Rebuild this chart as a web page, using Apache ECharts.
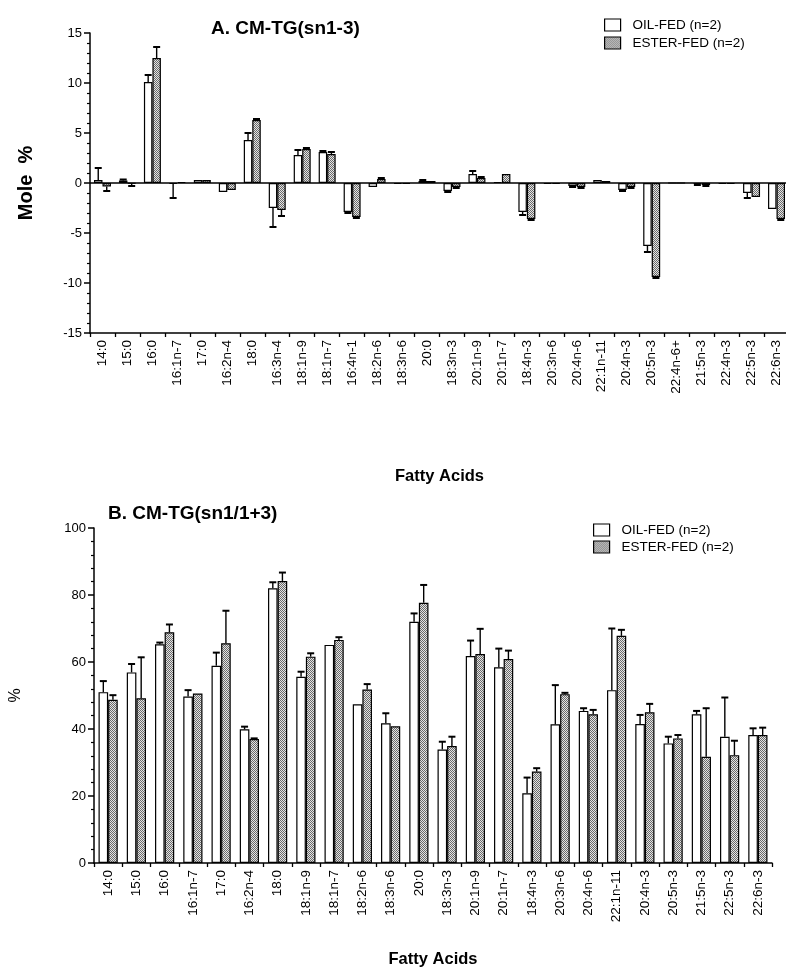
<!DOCTYPE html>
<html>
    <head>
        <meta charset="utf-8">
        <title>CM-TG fatty acids</title>
        <script src="https://cdn.jsdelivr.net/npm/echarts@6/dist/echarts.min.js"></script>
    </head>
    <body style="margin:0;background:#fff;">
        <div id="main" style="width:786px;height:973px;"></div>
        <script type="text/javascript">
        // panel A : CM-TG(sn1-3), change in mole %
        var catsA = ['14:0','15:0','16:0','16:1n-7','17:0','16:2n-4','18:0','16:3n-4','18:1n-9','18:1n-7',
                     '16:4n-1','18:2n-6','18:3n-6','20:0','18:3n-3','20:1n-9','20:1n-7','18:4n-3','20:3n-6','20:4n-6',
                     '22:1n-11','20:4n-3','20:5n-3','22:4n-6+','21:5n-3','22:4n-3','22:5n-3','22:6n-3'];
        var oilA      = [0.3, 0.25, 10.1, -0.1, 0.3, -0.9, 4.3, -2.5, 2.8, 3.1, -2.9, -0.4, -0.1, 0.2, -0.8, 0.9, 0.1, -2.9, -0.1, -0.3, 0.3, -0.7, -6.3, 0, -0.1, -0.1, -1.0, -2.6];
        var oilErrA   = [1.5, 0.35, 10.8, -1.5, 0.3, -0.9, 5.0, -4.4, 3.3, 3.2, -3.0, -0.4, -0.1, 0.3, -0.9, 1.2, 0.1, -3.2, -0.1, -0.4, 0.3, -0.8, -6.9, 0, -0.2, -0.1, -1.5, -2.6];
        var esterA    = [-0.35, -0.05, 12.5, 0.1, 0.3, -0.7, 6.3, -2.7, 3.4, 2.9, -3.4, 0.4, -0.1, 0.2, -0.4, 0.5, 0.9, -3.6, -0.1, -0.4, 0.2, -0.4, -9.4, 0, -0.2, -0.1, -1.4, -3.6];
        var esterErrA = [-0.8, -0.3, 13.6, 0.1, 0.3, -0.7, 6.4, -3.3, 3.5, 3.1, -3.5, 0.5, -0.1, 0.2, -0.5, 0.6, 0.9, -3.7, -0.1, -0.5, 0.2, -0.5, -9.5, 0, -0.3, -0.1, -1.4, -3.7];

        // panel B : CM-TG(sn1/1+3), %
        var catsB = ['14:0','15:0','16:0','16:1n-7','17:0','16:2n-4','18:0','18:1n-9','18:1n-7','18:2n-6',
                     '18:3n-6','20:0','18:3n-3','20:1n-9','20:1n-7','18:4n-3','20:3n-6','20:4n-6','22:1n-11','20:4n-3',
                     '20:5n-3','21:5n-3','22:5n-3','22:6n-3'];
        var oilB      = [51.0, 56.9, 65.3, 49.7, 58.9, 39.9, 82.0, 55.6, 65.1, 47.4, 41.7, 72.0, 33.9, 61.8, 58.4, 20.8, 41.4, 45.4, 51.6, 41.5, 35.7, 44.4, 37.7, 38.2];
        var oilErrB   = [54.3, 59.4, 65.8, 51.6, 62.8, 40.7, 83.8, 57.1, 65.1, 47.4, 44.7, 74.5, 36.2, 66.4, 64.0, 25.5, 53.1, 46.2, 70.0, 44.2, 37.7, 45.4, 49.4, 40.2];
        var esterB    = [48.7, 49.2, 68.9, 50.6, 65.6, 37.0, 84.2, 61.6, 66.6, 51.8, 40.8, 77.7, 34.9, 62.4, 60.9, 27.3, 50.4, 44.4, 67.8, 45.0, 37.2, 31.7, 32.2, 38.2];
        var esterErrB = [50.1, 61.4, 71.2, 50.6, 75.3, 37.2, 86.7, 62.6, 67.4, 53.4, 40.8, 83.0, 37.7, 69.9, 63.4, 28.3, 50.8, 45.7, 69.6, 47.5, 38.2, 46.2, 36.5, 40.4];

        var seriesNames = ['OIL-FED (n=2)', 'ESTER-FED (n=2)'];

        var FONT = "'Liberation Sans', Arial, sans-serif";
        var BAR_FRAC = 0.34;

        // stippled grey fill like the printed ester bars
        function makeDots() {
            var c = document.createElement('canvas');
            c.width = 2; c.height = 2;
            var ctx = c.getContext('2d');
            ctx.fillStyle = '#e4e4e4';
            ctx.fillRect(0, 0, 2, 2);
            ctx.fillStyle = '#6a6a6a';
            ctx.fillRect(0, 0, 1, 1);
            ctx.fillRect(1, 1, 1, 1);
            return c;
        }
        var dots = { image: makeDots(), repeat: 'repeat' };

        var oilStyle = { color: '#fff', borderColor: '#000', borderWidth: 1.2 };
        var esterStyle = { color: dots, borderColor: '#000', borderWidth: 1.2 };

        function errData(vals, errs) {
            var out = [];
            for (var i = 0; i < vals.length; i++) out.push([i, vals[i], errs[i]]);
            return out;
        }

        // one-sided error bar with a cap, drawn at the bar's centre
        function errRender(side) {
            return function (params, api) {
                var i = api.value(0), v = api.value(1), e = api.value(2);
                if (Math.abs(e - v) < 0.05) return;
                var bw = api.size([1, 0])[0];
                var dx = side * bw * BAR_FRAC / 2;
                var p0 = api.coord([i, v]);
                var p1 = api.coord([i, e]);
                var x = p0[0] + dx;
                return {
                    type: 'group',
                    children: [
                        { type: 'line', shape: { x1: x, y1: p0[1], x2: x, y2: p1[1] }, style: { stroke: '#000', lineWidth: 1.4 } },
                        { type: 'line', shape: { x1: x - 3.5, y1: p1[1], x2: x + 3.5, y2: p1[1] }, style: { stroke: '#000', lineWidth: 2 } }
                    ]
                };
            };
        }

        function valueAxis(grid, min, max, interval, name, nameGap, nameSize, bold) {
            return {
                type: 'value', gridIndex: grid, min: min, max: max, interval: interval,
                name: name, nameLocation: 'middle', nameGap: nameGap,
                nameTextStyle: { fontFamily: FONT, fontSize: nameSize, fontWeight: bold ? 'bold' : 'normal', color: '#000' },
                axisLine: { show: true, lineStyle: { color: '#000', width: 1.5 } },
                axisTick: { show: true, length: 6, lineStyle: { color: '#000', width: 1.5 } },
                minorTick: { show: true, splitNumber: 5, length: 3, lineStyle: { color: '#000', width: 1.2 } },
                splitLine: { show: false },
                axisLabel: { fontFamily: FONT, fontSize: 13, color: '#000', margin: 8 }
            };
        }

        function catAxis(grid, cats, nameGap, onZero) {
            return {
                type: 'category', gridIndex: grid, data: cats,
                name: 'Fatty Acids', nameLocation: 'middle', nameGap: nameGap,
                nameTextStyle: { fontFamily: FONT, fontSize: 16.5, fontWeight: 'bold', color: '#000' },
                axisLine: { show: true, onZero: onZero, lineStyle: { color: '#000', width: 1.5 } },
                axisTick: { show: true, length: 4, alignWithLabel: false, lineStyle: { color: '#000', width: 1.3 } },
                axisLabel: { interval: 0, rotate: 90, fontFamily: FONT, fontSize: 13.5, color: '#000', margin: 7 },
                splitLine: { show: false }
            };
        }

        var legendText = { fontFamily: FONT, fontSize: 13.5, color: '#000', padding: [0, 0, 0, 7] };

        var myChart = echarts.init(document.getElementById('main'));

        var option = {
            animation: false,
            backgroundColor: '#fff',
            title: [
                { text: 'A. CM-TG(sn1-3)', left: 206, top: 14,
                  textStyle: { fontFamily: FONT, fontSize: 19, fontWeight: 'bold', color: '#000' } },
                { text: 'B. CM-TG(sn1/1+3)', left: 103, top: 499,
                  textStyle: { fontFamily: FONT, fontSize: 19, fontWeight: 'bold', color: '#000' } }
            ],
            legend: [
                { orient: 'vertical', left: 599, top: 13, itemWidth: 16, itemHeight: 12, itemGap: 4, icon: 'rect',
                  textStyle: legendText,
                  data: [{ name: seriesNames[0], itemStyle: oilStyle }, { name: seriesNames[1], itemStyle: esterStyle }] },
                { orient: 'vertical', left: 588, top: 518, itemWidth: 16, itemHeight: 12, itemGap: 3, icon: 'rect',
                  textStyle: legendText,
                  data: [{ name: seriesNames[0], itemStyle: oilStyle }, { name: seriesNames[1], itemStyle: esterStyle }] }
            ],
            grid: [
                { left: 90, right: -3, top: 33, height: 300, containLabel: false, outerBoundsMode: 'none' },
                { left: 94, right: 14, top: 528, height: 335, containLabel: false, outerBoundsMode: 'none' }
            ],
            xAxis: [
                catAxis(0, catsA, 135, false),
                catAxis(1, catsB, 88, true)
            ],
            yAxis: [
                valueAxis(0, -15, 15, 5, 'Mole  %', 54, 20, true),
                valueAxis(1, 0, 100, 20, '%', 70, 16, false)
            ],
            series: [
                { name: seriesNames[0], type: 'bar', xAxisIndex: 0, yAxisIndex: 0, data: oilA,
                  barWidth: (BAR_FRAC * 100) + '%', barGap: '0%', itemStyle: oilStyle,
                  markLine: { silent: true, symbol: 'none', label: { show: false },
                              lineStyle: { color: '#000', type: 'solid', width: 1.5 }, data: [{ yAxis: 0 }] } },
                { name: seriesNames[1], type: 'bar', xAxisIndex: 0, yAxisIndex: 0, data: esterA,
                  barWidth: (BAR_FRAC * 100) + '%', barGap: '0%', itemStyle: esterStyle },
                { type: 'custom', xAxisIndex: 0, yAxisIndex: 0, renderItem: errRender(-1), data: errData(oilA, oilErrA), z: 3 },
                { type: 'custom', xAxisIndex: 0, yAxisIndex: 0, renderItem: errRender(1), data: errData(esterA, esterErrA), z: 3 },

                { name: seriesNames[0], type: 'bar', xAxisIndex: 1, yAxisIndex: 1, data: oilB,
                  barWidth: (BAR_FRAC * 100) + '%', barGap: '0%', itemStyle: oilStyle },
                { name: seriesNames[1], type: 'bar', xAxisIndex: 1, yAxisIndex: 1, data: esterB,
                  barWidth: (BAR_FRAC * 100) + '%', barGap: '0%', itemStyle: esterStyle },
                { type: 'custom', xAxisIndex: 1, yAxisIndex: 1, renderItem: errRender(-1), data: errData(oilB, oilErrB), z: 3 },
                { type: 'custom', xAxisIndex: 1, yAxisIndex: 1, renderItem: errRender(1), data: errData(esterB, esterErrB), z: 3 }
            ]
        };

        myChart.setOption(option);
        </script>
    </body>
</html>
